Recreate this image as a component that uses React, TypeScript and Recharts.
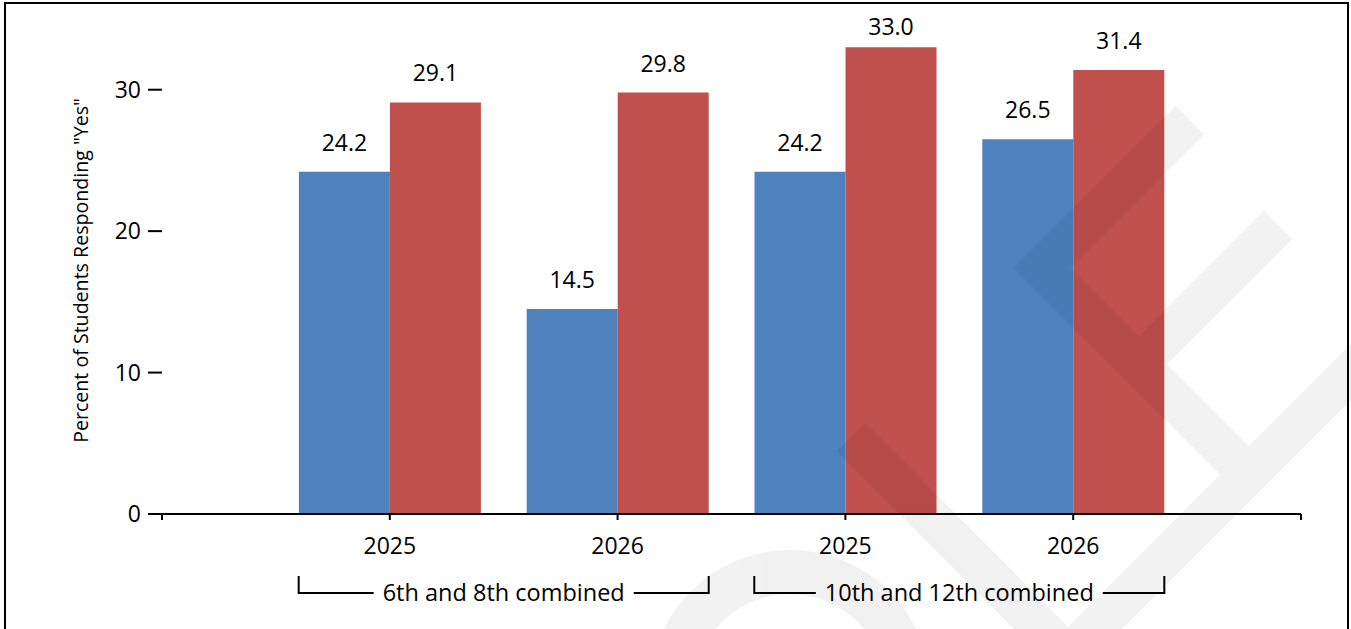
import { Bar, BarChart, LabelList, XAxis, YAxis } from "recharts";

const categories = ["2025", "2026", "2025", "2026"];
const slots = [1, 2, 3, 4];
const blueValues = [24.2, 14.5, 24.2, 26.5];
const redValues = [29.1, 29.8, 33.0, 31.4];
const yTicks = [0, 10, 20, 30];
const xTicks = [0, 1, 2, 3, 4, 5];
const groupLabels = ["6th and 8th combined", "10th and 12th combined"];
const groupCenters = [1.5, 3.5];

const data = slots.map((slot, i) => ({
  slot,
  year: categories[i],
  blue: blueValues[i],
  red: redValues[i],
}));

const W = 1351;
const H = 629;
const MARGIN = { top: 19, right: 50, bottom: 15, left: 0 };
const Y_AXIS_W = 162;
const UNIT = (W - Y_AXIS_W - MARGIN.right) / (xTicks.length - 1);
const FONT = "'Open Sans', sans-serif";
const GROUP_FONT = 23.5;

function textWidth(s: string, size: number) {
  const ctx = document.createElement("canvas").getContext("2d");
  if (!ctx) return s.length * size * 0.5;
  ctx.font = `${size}px ${FONT}`;
  return ctx.measureText(s).width;
}

/** Value above a bar; kept inside the frame like the original does. */
function ValueLabel(props: any) {
  const { x, y, width, value } = props;
  const baseline = Math.max(Number(y) - 21, 35);
  return (
    <text x={Number(x) + Number(width) / 2} y={baseline} textAnchor="middle" fontSize={23} fill="#000">
      {Number(value).toFixed(1)}
    </text>
  );
}

/** Bracket + caption under each pair of years. */
function GroupTick(props: any) {
  const { x, y, payload } = props;
  const label = groupLabels[groupCenters.indexOf(payload.value)] ?? "";
  const half = UNIT * 0.9;
  const line = half - textWidth(label, GROUP_FONT) / 2 - 9;
  const top = y + 12;
  const base = y + 29;
  return (
    <g>
      <path
        d={`M${x - half},${top} V${base} H${x - half + line}`}
        stroke="#000"
        strokeWidth={2}
        fill="none"
      />
      <path
        d={`M${x + half},${top} V${base} H${x + half - line}`}
        stroke="#000"
        strokeWidth={2}
        fill="none"
      />
      <text x={x} y={base + 8} textAnchor="middle" fontSize={GROUP_FONT} fill="#000">
        {label}
      </text>
    </g>
  );
}

export default function App() {
  return (
    <div
      style={{
        position: "absolute",
        left: 0,
        top: 0,
        width: W,
        height: H,
        overflow: "hidden",
        background: "#fff",
        fontFamily: FONT,
      }}
    >
      <BarChart width={W} height={H} data={data} margin={MARGIN} barGap={0} barSize={91}>
        <XAxis
          dataKey="slot"
          type="number"
          domain={[0, 5]}
          ticks={xTicks}
          interval={0}
          tickFormatter={(v: number) => categories[slots.indexOf(v)] ?? ""}
          axisLine={{ stroke: "#000", strokeWidth: 2 }}
          tickLine={{ stroke: "#000", strokeWidth: 2 }}
          tickSize={6}
          tickMargin={18}
          tick={{ fill: "#000", fontSize: 23 }}
          height={50}
        />
        <XAxis
          xAxisId="groups"
          dataKey="slot"
          type="number"
          domain={[0, 5]}
          ticks={groupCenters}
          interval={0}
          axisLine={false}
          tickLine={false}
          tickSize={0}
          tickMargin={0}
          tick={<GroupTick />}
          height={50}
        />
        <YAxis
          domain={[0, 35]}
          ticks={yTicks}
          interval={0}
          width={Y_AXIS_W}
          axisLine={false}
          tickLine={{ stroke: "#000", strokeWidth: 2 }}
          tickSize={14}
          tickMargin={7}
          tick={{ fill: "#000", fontSize: 23 }}
          label={{
            value: 'Percent of Students Responding "Yes"',
            angle: -90,
            position: "center",
            dy: 4,
            style: { fontSize: 19.6, fill: "#000" },
          }}
        />
        <Bar dataKey="blue" fill="#4F81BD" isAnimationActive={false}>
          <LabelList dataKey="blue" content={<ValueLabel />} />
        </Bar>
        <Bar dataKey="red" fill="#C0504D" isAnimationActive={false}>
          <LabelList dataKey="red" content={<ValueLabel />} />
        </Bar>
      </BarChart>
      {/* faint watermark drawn over the plot */}
      <svg
        width={W}
        height={H}
        style={{ position: "absolute", left: 0, top: 0, pointerEvents: "none" }}
      >
        <g opacity={0.05} fill="none" stroke="#000" strokeWidth={40} strokeLinejoin="miter">
          <path d="M1190,120 L1042,268 L1241,467 M1278,225 L1150,353 M851,437 L1068,655 L1380,343" />
          <circle cx={790} cy={690} r={118} strokeWidth={44} />
        </g>
      </svg>
      <div
        style={{
          position: "absolute",
          left: 4,
          top: 2,
          width: 1341,
          height: 700,
          border: "2px solid #000",
          pointerEvents: "none",
        }}
      />
    </div>
  );
}
